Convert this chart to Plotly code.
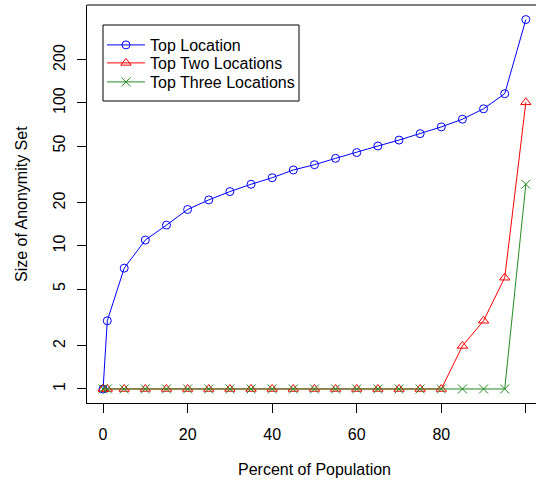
import plotly.graph_objects as go

# Data
percent = [0, 1, 5, 10, 15, 20, 25, 30, 35, 40, 45, 50, 55, 60, 65, 70, 75, 80, 85, 90, 95, 100]
top_location = [1, 3, 7, 11, 14, 18, 21, 24, 27, 30, 34, 37, 41, 45, 50, 55, 61, 68, 77, 91, 116, 383]
top_two = [1, 1, 1, 1, 1, 1, 1, 1, 1, 1, 1, 1, 1, 1, 1, 1, 1, 1, 2, 3, 6, 101]
top_three = [1, 1, 1, 1, 1, 1, 1, 1, 1, 1, 1, 1, 1, 1, 1, 1, 1, 1, 1, 1, 1, 27]

x_ticks = [0, 20, 40, 60, 80, 100]
y_ticks = [1, 2, 5, 10, 20, 50, 100, 200]
y_ticktext = [str(v) for v in y_ticks]

FONT = "Liberation Sans, Arial, Helvetica, sans-serif"

W, H = 536, 482
L, R, T, B = 87, 0, 5, 79
PW, PH = W - L - R, H - T - B


def px_x(p):
    return (p - L) / PW


def px_y(p):
    return 1 - (p - T) / PH


fig = go.Figure()
fig.add_trace(go.Scatter(
    x=percent, y=top_location, mode="lines+markers", name="Top Location",
    line=dict(color="#0000FF", width=1), legend="legend",
    marker=dict(symbol="circle-open", size=8, color="#0000FF", line=dict(width=1)),
))
fig.add_trace(go.Scatter(
    x=percent, y=top_two, mode="lines+markers", name="Top Two Locations",
    line=dict(color="#FF0000", width=1), legend="legend2",
    marker=dict(symbol="triangle-up-open", size=9, color="#FF0000", line=dict(width=1)),
))
fig.add_trace(go.Scatter(
    x=percent, y=top_three, mode="lines+markers", name="Top Three Locations",
    line=dict(color="#228B22", width=1), legend="legend3",
    marker=dict(symbol="x-thin-open", size=9, color="#228B22", line=dict(width=1)),
))

legend_common = dict(
    xanchor="left", yanchor="middle", bgcolor="rgba(0,0,0,0)", borderwidth=0,
    font=dict(family=FONT, size=16, color="black"), itemwidth=38,
)
row_y = [45, 63, 82]

fig.update_layout(
    width=W, height=H,
    margin=dict(l=L, r=R, t=T, b=B, pad=0),
    paper_bgcolor="white", plot_bgcolor="white",
    font=dict(family=FONT, size=16, color="black"),
    showlegend=True,
    legend=dict(x=px_x(102), y=px_y(row_y[0]), **legend_common),
    legend2=dict(x=px_x(102), y=px_y(row_y[1]), **legend_common),
    legend3=dict(x=px_x(102), y=px_y(row_y[2]), **legend_common),
    xaxis=dict(
        range=[-3.8, 102.4], tickvals=x_ticks, ticks="outside", ticklen=9,
        tickcolor="black", tickwidth=1, showline=True, linecolor="black", linewidth=1,
        showgrid=False, zeroline=False, ticklabelstandoff=8,
        tickfont=dict(family=FONT, size=16, color="black"),
    ),
    yaxis=dict(
        type="log", range=[-0.098, 2.685], tickvals=y_ticks, ticktext=y_ticktext,
        ticks="outside", ticklen=9, tickcolor="black", tickwidth=1,
        showline=True, linecolor="black", linewidth=1,
        showgrid=False, zeroline=False, tickangle=-90, ticklabelstandoff=6,
        tickfont=dict(family=FONT, size=16, color="black"),
    ),
    shapes=[
        dict(type="line", xref="paper", yref="paper", x0=0, x1=1, y0=1, y1=1,
             line=dict(color="black", width=1)),
        dict(type="rect", xref="paper", yref="paper",
             x0=px_x(103), x1=px_x(299), y0=px_y(101), y1=px_y(25),
             line=dict(color="black", width=1), fillcolor="white", layer="below"),
    ],
    annotations=[
        dict(text="Percent of Population", xref="paper", yref="paper",
             x=px_x(314.5), y=px_y(470), xanchor="center", yanchor="middle",
             showarrow=False, font=dict(family=FONT, size=16, color="black")),
        dict(text="Size of Anonymity Set", xref="paper", yref="paper",
             x=px_x(21), y=0.5, xanchor="center", yanchor="middle",
             textangle=-90, showarrow=False,
             font=dict(family=FONT, size=16, color="black")),
    ],
)

fig.write_html("out.html", config={"displayModeBar": False},
               post_script="document.body.style.margin='0px';")
